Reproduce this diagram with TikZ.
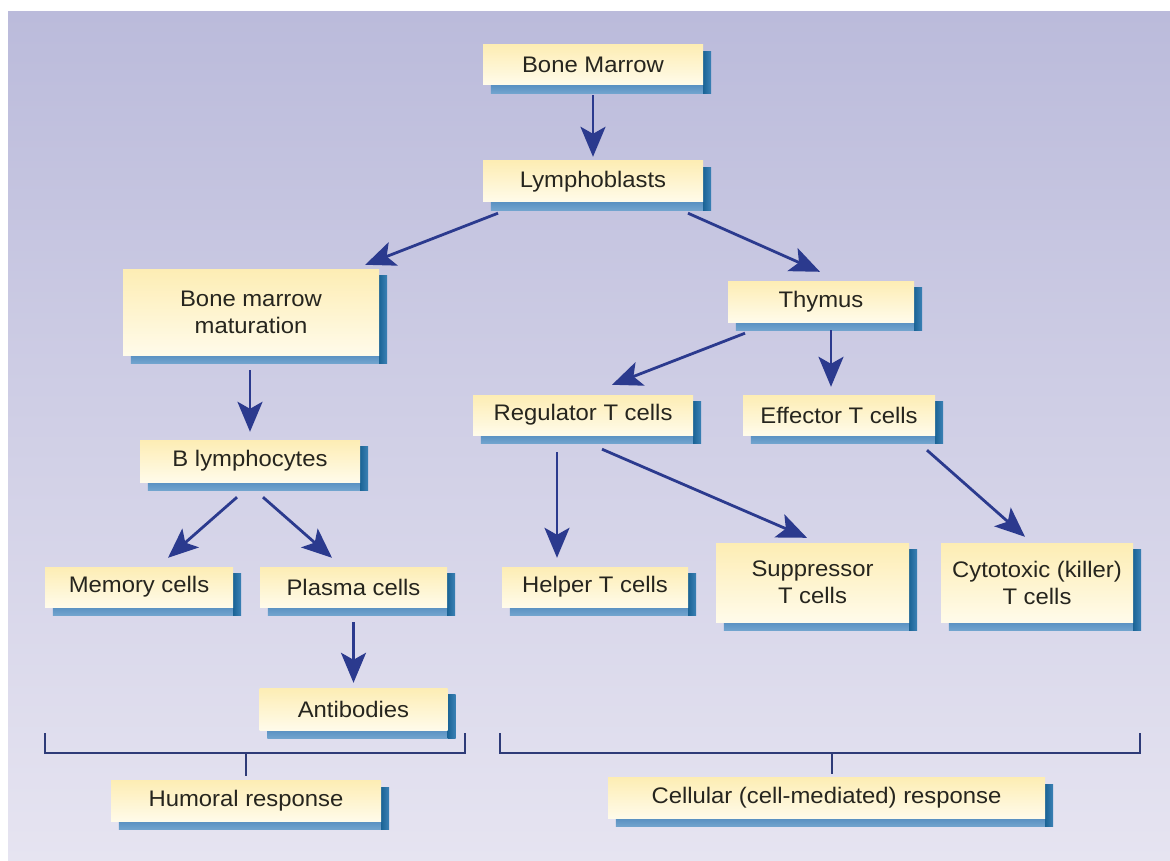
\documentclass[tikz,border=0pt]{standalone}
\usepackage{fontspec}
\setmainfont{Liberation Sans}[FakeStretch=1.06]
\usetikzlibrary{arrows.meta,calc,backgrounds}
\definecolor{panelTop}{HTML}{BBBBDB}
\definecolor{panelBot}{HTML}{E6E4F1}
\definecolor{boxTop}{HTML}{FDEDB4}
\definecolor{boxBot}{HTML}{FFFBEA}
\definecolor{shDark}{HTML}{1B6496}
\definecolor{shDarkR}{HTML}{3C82B6}
\definecolor{shLight}{HTML}{5A91C2}
\definecolor{shLightB}{HTML}{72A4CE}
\definecolor{arrowc}{HTML}{2B3A8E}
\definecolor{txt}{HTML}{26251E}
\definecolor{brk}{HTML}{2E3B78}
\tikzset{
  cellbox/.style={draw=none, top color=boxTop, bottom color=boxBot, text=txt,
    align=center, inner sep=0pt, font=\fontsize{22.5}{27}\selectfont},
  flow/.style={draw=arrowc, line width=2.8pt,
    -{Stealth[length=30pt,width=25pt,inset=7pt]}},
  brace/.style={draw=brk, line width=2pt},
}
\newcommand\cellnode[6]{\node[cellbox, minimum width=#4pt, minimum height=#5pt] (#1) at (#2,#3) {#6};}
\begin{document}
\begin{tikzpicture}[x=1pt,y=-1pt]
\useasboundingbox (0,0) rectangle (1170,861);
% boxes
\cellnode{bm}{593}{65}{220}{40}{Bone Marrow}
\cellnode{lb}{593}{181.5}{220}{41}{Lymphoblasts}
\cellnode{bmm}{251}{312}{256}{86}{Bone marrow\\maturation}
\cellnode{thy}{821}{301.5}{186}{41}{Thymus}
\cellnode{reg}{583}{415}{220}{40}{Regulator T cells}
\cellnode{eff}{839}{415}{192}{40}{Effector T cells}
\cellnode{blym}{250}{461}{220}{42}{B lymphocytes}
\cellnode{mem}{139}{587}{188}{40}{Memory cells}
\cellnode{plasma}{353.5}{587}{187}{40}{Plasma cells}
\cellnode{anti}{353.5}{709}{188}{42}{Antibodies}
\cellnode{helper}{595}{587}{186}{40}{Helper T cells}
\cellnode{supp}{812.5}{582.5}{193}{79}{Suppressor\\T cells}
\cellnode{cyto}{1037}{582.5}{192}{79}{Cytotoxic (killer)\\T cells}
\cellnode{hum}{246}{801}{270}{41}{Humoral response}
\cellnode{cell}{826.5}{798}{437}{41}{Cellular (cell-mediated) response}
% background panel and shadows
\begin{scope}[on background layer]
  \fill[white] (0,0) rectangle (1170,861);
  \shade[top color=panelTop, bottom color=panelBot] (8,12) rectangle (1170,861);
  \foreach \n in {bm,lb,bmm,thy,reg,eff,blym,mem,plasma,anti,helper,supp,cyto,hum,cell}{
    \shade[top color=shLight, bottom color=shLightB] ($(\n.south west)+(8,0)$) rectangle ($(\n.south east)+(0,8)$);
    \shade[left color=shDark, right color=shDarkR] ($(\n.north east)+(0,7)$) rectangle ($(\n.south east)+(8,8)$);
  }
\end{scope}
% arrows
\draw[flow] ($(bm.south)+(0,10)$) -- ($(lb.north)+(0,-4)$);
\draw[flow] ($(lb.south)+(-95,11)$) -- ($(bmm.north east)+(-14,-4)$);
\draw[flow] ($(lb.south)+(95,11)$) -- ($(thy.north)+(-1,-9)$);
\draw[flow] ($(bmm.south)+(-1,15)$) -- ($(blym.north)+(0,-8)$);
\draw[flow] ($(thy.south)+(-76,11)$) -- ($(reg.north)+(29,-10)$);
\draw[flow] ($(thy.south)+(10,8)$) -- ($(eff.north)+(-8,-8)$);
\draw[flow] ($(blym.south)+(-13,15)$) -- ($(mem.north)+(29,-9)$);
\draw[flow] ($(blym.south)+(13,15)$) -- ($(plasma.north)+(-21.5,-9)$);
\draw[flow] ($(plasma.south)+(0,15)$) -- ($(anti.north)+(0,-5)$);
\draw[flow] ($(reg.south)+(-26,17)$) -- ($(helper.north)+(-38,-9)$);
\draw[flow] ($(reg.south)+(19,14)$) -- ($(supp.north)+(-5.5,-5)$);
\draw[flow] ($(eff.south)+(88,15)$) -- ($(cyto.north)+(-12,-6)$);
% brackets
\coordinate (hmid) at (246,753);
\coordinate (cmid) at (832,753);
\draw[brace] (45,733) -- (45,753) -- (465,753) -- (465,733);
\draw[brace] (hmid) -- ($(hmid |- hum.north)+(0,-4)$);
\draw[brace] (500,733) -- (500,753) -- (1140,753) -- (1140,733);
\draw[brace] (cmid) -- ($(cmid |- cell.north)+(0,-3)$);
\end{tikzpicture}
\end{document}
